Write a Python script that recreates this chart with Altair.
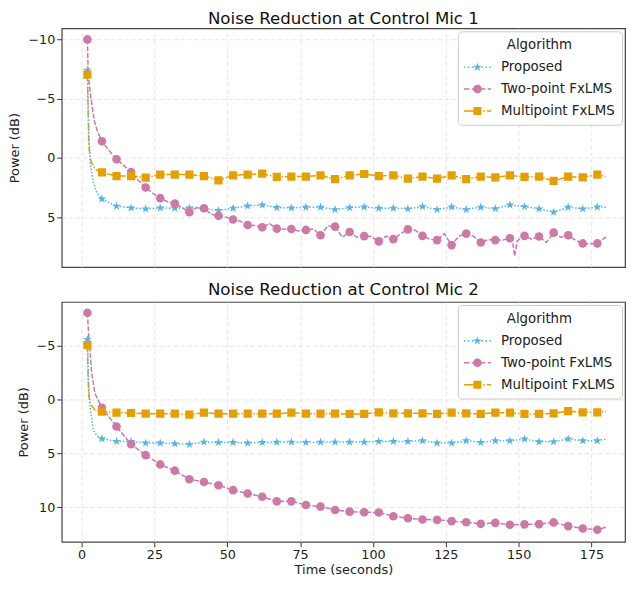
import altair as alt
import pandas as pd

ALGOS = ["Proposed", "Two-point FxLMS", "Multipoint FxLMS"]
COLORS = ["#56B4E9", "#CC79A7", "#E69F00"]
DASHES = [[1.5, 1.8], [5, 1.8], [7, 1.8, 1.5, 1.8]]
MARKER_SIZES = [85, 75, 68]

marker_times = [2, 7, 12, 17, 22, 27, 32, 37, 42, 47, 52, 57, 62, 67, 72, 77, 82, 87,
                92, 97, 102, 107, 112, 117, 122, 127, 132, 137, 142, 147, 152, 157, 162,
                167, 172, 177]

# ---- Control Mic 1 ----
mic1_proposed = [-7.4, 3.47, 4.08, 4.22, 4.3, 4.22, 4.25, 4.22, 4.25, 4.44, 4.25, 4.05,
                 3.97, 4.19, 4.22, 4.16, 4.16, 4.36, 4.2, 4.14, 4.25, 4.25, 4.3, 4.11,
                 4.36, 4.14, 4.36, 4.16, 4.28, 3.97, 4.11, 4.3, 4.58, 4.16, 4.3, 4.14]
mic1_proposed_extra_t = [2.5, 3, 4, 5, 6, 180]
mic1_proposed_extra_v = [-2.0, 0.5, 2.0, 2.8, 3.2, 4.16]

mic1_twopoint = [-10.0, -1.4, 0.11, 1.2, 2.5, 3.4, 3.86, 4.58, 4.25, 4.88, 5.2, 5.66,
                 5.86, 5.97, 6.0, 6.08, 6.53, 5.8, 6.25, 6.6, 7.05, 6.86, 6.03, 6.58,
                 6.94, 7.36, 6.39, 7.14, 6.94, 6.78, 6.58, 6.64, 6.31, 6.53, 7.22, 7.22]
mic1_twopoint_extra_t = [2.3, 3.2, 4.4, 5.5, 9.5, 14.5, 19.5, 24.5, 29.5, 34.5, 39.5,
                         44.5, 49.5, 54.5, 59.5, 64.5, 69.5, 74.5, 79.5, 84.5, 89.5,
                         94.5, 99.5, 104.5, 109.5, 114.5, 119.5, 124.5, 129.5, 134.5,
                         139.5, 144.5, 148, 148.6, 149.5, 154.5, 159.5, 164.5, 169.5,
                         174.5, 180]
mic1_twopoint_extra_v = [-7.0, -5.1, -3.1, -2.2, -0.6, 0.65, 1.9, 3.0, 3.7, 4.2, 4.2,
                         4.75, 5.0, 5.35, 5.7, 5.55, 6.03, 6.17, 6.0, 5.75, 6.7,
                         6.7, 6.64, 6.6, 6.4, 6.1, 6.86, 6.4, 6.6, 6.6,
                         6.9, 6.94, 7.2, 8.3, 7.0, 6.86, 7.14, 6.7, 6.94,
                         7.25, 6.66]

mic1_multipoint = [-7.03, 1.22, 1.53, 1.53, 1.66, 1.41, 1.41, 1.41, 1.53, 1.89, 1.47,
                   1.41, 1.33, 1.61, 1.58, 1.58, 1.47, 1.8, 1.47, 1.36, 1.53, 1.47,
                   1.75, 1.58, 1.75, 1.47, 1.8, 1.58, 1.64, 1.47, 1.61, 1.58, 1.94,
                   1.58, 1.64, 1.41]
mic1_multipoint_extra_t = [2.5, 3, 4, 5, 180]
mic1_multipoint_extra_v = [-1.0, 0.1, 0.7, 1.0, 1.58]

# ---- Control Mic 2 ----
mic2_proposed = [-5.6, 3.64, 3.89, 3.89, 4.04, 4.04, 4.1, 4.16, 3.95, 3.98, 3.98, 4.04,
                 3.98, 3.95, 3.95, 3.98, 3.95, 3.95, 3.95, 3.95, 3.89, 3.89, 3.89, 3.83,
                 4.04, 4.04, 3.83, 3.98, 3.83, 3.83, 3.67, 3.92, 3.92, 3.67, 3.83, 3.83]
mic2_proposed_extra_t = [2.4, 2.9, 4, 5.2, 180]
mic2_proposed_extra_v = [-1.8, 0.67, 2.8, 3.37, 3.67]

mic2_twopoint = [-8.06, 0.76, 2.51, 4.16, 5.17, 6.03, 6.61, 7.41, 7.66, 7.96, 8.42, 8.73,
                 9.03, 9.46, 9.46, 9.8, 9.95, 10.26, 10.42, 10.47, 10.5, 10.84, 11.03,
                 11.15, 11.18, 11.3, 11.4, 11.55, 11.46, 11.64, 11.6, 11.58, 11.42,
                 11.76, 11.98, 12.1]
mic2_twopoint_extra_t = [2.35, 3.5, 4.6, 180]
mic2_twopoint_extra_v = [-6.4, -2.4, -0.55, 11.86]

mic2_multipoint = [-5.06, 1.13, 1.22, 1.25, 1.31, 1.31, 1.31, 1.41, 1.22, 1.31, 1.31,
                   1.31, 1.31, 1.31, 1.22, 1.31, 1.31, 1.31, 1.34, 1.34, 1.19, 1.28,
                   1.28, 1.28, 1.34, 1.22, 1.28, 1.34, 1.22, 1.22, 1.34, 1.34, 1.28,
                   1.07, 1.19, 1.19]
mic2_multipoint_extra_t = [2.3, 2.5, 3, 4.5, 180]
mic2_multipoint_extra_v = [-1.5, -0.3, 0.4, 0.95, 1.1]


# ---- marker glyphs (unit SVG paths) ----
def star_path(r):
    pts = [(0, -1), (0.2245, -0.309), (0.951, -0.309), (0.363, 0.118), (0.588, 0.809),
           (0, 0.382), (-0.588, 0.809), (-0.363, 0.118), (-0.951, -0.309),
           (-0.2245, -0.309)]
    return "M" + "L".join(f"{x * r:.3f},{y * r:.3f}" for x, y in pts) + "Z"


def circle_path(r):
    return f"M{r},0A{r},{r} 0 1,1 {-r},0A{r},{r} 0 1,1 {r},0Z"


def square_path(h):
    return f"M{-h},{-h}H{h}V{h}H{-h}Z"


def segs(pairs, th=0.19):
    return "".join(f"M{a},{-th}H{b}V{th}H{a}Z" for a, b in pairs)


STAR = star_path(1.0)
# legend glyphs: line style + marker
LEGEND_GLYPHS = [
    segs([(-3.4, -3.03), (-2.4, -2.03), (-1.4, -1.03), (1.03, 1.4), (2.03, 2.4), (3.03, 3.4)])
    + star_path(1.15),
    segs([(-3.4, -2.0), (-1.4, 0), (0.6, 2.0), (2.6, 3.4)]) + circle_path(1.1),
    segs([(-3.4, -1.0), (1.5, 1.875), (2.4, 3.4)]) + square_path(1.0),
]

def build(series):
    rows = []
    for algo, markers, et, ev in series:
        for t, v in zip(marker_times, markers):
            rows.append({"Time": t, "Power": v, "Algorithm": algo, "Marker": True})
        for t, v in zip(et, ev):
            rows.append({"Time": t, "Power": v, "Algorithm": algo, "Marker": False})
    return pd.DataFrame(rows).sort_values(["Algorithm", "Time"])


df1 = build([
    ("Proposed", mic1_proposed, mic1_proposed_extra_t, mic1_proposed_extra_v),
    ("Two-point FxLMS", mic1_twopoint, mic1_twopoint_extra_t, mic1_twopoint_extra_v),
    ("Multipoint FxLMS", mic1_multipoint, mic1_multipoint_extra_t, mic1_multipoint_extra_v),
])
df2 = build([
    ("Proposed", mic2_proposed, mic2_proposed_extra_t, mic2_proposed_extra_v),
    ("Two-point FxLMS", mic2_twopoint, mic2_twopoint_extra_t, mic2_twopoint_extra_v),
    ("Multipoint FxLMS", mic2_multipoint, mic2_multipoint_extra_t, mic2_multipoint_extra_v),
])

FONT = "DejaVu Sans"


def panel(df, title, ydomain, yticks, show_x, height, title_offset):
    legend = alt.Legend(
        title="Algorithm", orient="top-right", offset=3,
        fillColor="white", strokeColor="#cccccc", cornerRadius=4, padding=7,
        titleAnchor="middle", titleFontSize=13.4, titleFontWeight="normal",
        titleFont=FONT, titleColor="#222222", titlePadding=9,
        labelFont=FONT, labelFontSize=13.4, labelColor="#222222",
        symbolSize=64, symbolStrokeWidth=0, symbolOpacity=1, rowPadding=7,
        symbolOffset=6, labelOffset=17,
    )
    x = alt.X("Time:Q",
              scale=alt.Scale(domain=[-6.8, 186.5], nice=False, zero=False),
              axis=alt.Axis(values=[0, 25, 50, 75, 100, 125, 150, 175],
                            labels=show_x, ticks=show_x,
                            title="Time (seconds)" if show_x else None))
    y = alt.Y("Power:Q",
              scale=alt.Scale(domain=ydomain, nice=False, zero=False, reverse=True),
              axis=alt.Axis(values=yticks, title="Power (dB)", titlePadding=6))
    cscale = alt.Scale(domain=ALGOS, range=COLORS)
    base = alt.Chart(df)
    # legend-only layer first so its explicit legend wins the merge
    legend_layer = base.transform_filter("false").mark_point(filled=True, opacity=1).encode(
        x=x, y=y,
        color=alt.Color("Algorithm:N", scale=cscale, legend=legend),
        shape=alt.Shape("Algorithm:N", scale=alt.Scale(domain=ALGOS, range=LEGEND_GLYPHS),
                        legend=legend),
    )
    line = base.mark_line(strokeWidth=1.5, clip=True).encode(
        x=x, y=y,
        color=alt.Color("Algorithm:N", scale=cscale),
        strokeDash=alt.StrokeDash("Algorithm:N",
                                  scale=alt.Scale(domain=ALGOS, range=DASHES),
                                  legend=None),
    )
    layers = [legend_layer, line]
    shapes = [STAR, "circle", "square"]
    for algo, shp, sz in zip(ALGOS, shapes, MARKER_SIZES):
        layers.append(
            base.transform_filter(alt.datum.Marker)
            .transform_filter(alt.datum.Algorithm == algo)
            .mark_point(filled=True, opacity=1, clip=True, shape=shp, size=sz)
            .encode(x=x, y=y, color=alt.Color("Algorithm:N", scale=cscale))
        )
    return alt.layer(*layers).properties(
        width=566, height=height,
        title=alt.TitleParams(title, font=FONT, fontSize=16.7, fontWeight="normal",
                              anchor="middle", offset=title_offset, color="#111111"),
    )


top = panel(df1, "Noise Reduction at Control Mic 1", [-10.94, 9.22], [-10, -5, 0, 5],
            False, 240, 1)
bottom = panel(df2, "Noise Reduction at Control Mic 2", [-9.07, 13.22], [-5, 0, 5, 10],
               True, 241, 3)

chart = alt.vconcat(top, bottom, spacing=13).resolve_scale(
    color="independent", shape="independent", strokeDash="independent"
).properties(
    padding={"left": 0, "top": 0, "right": 0, "bottom": 0}
).configure_axis(
    grid=True, gridColor="#dddddd", gridDash=[4, 3], gridWidth=0.8, domain=False,
    tickColor="#333333", tickSize=5, labelFont=FONT, labelFontSize=12.8,
    labelColor="#222222", titleFont=FONT, titleFontSize=13, titleFontWeight="normal",
    titleColor="#222222", labelPadding=2,
).configure_axisX(titlePadding=2).configure_view(stroke="#444444", strokeWidth=1.2)

chart.save("out.html", embed_options={"renderer": "svg", "actions": False})
